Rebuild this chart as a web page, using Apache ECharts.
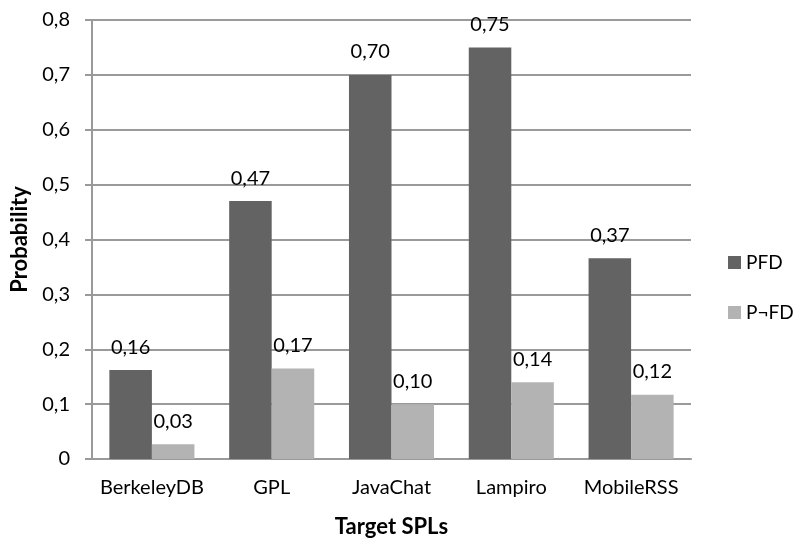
<!DOCTYPE html>
<html>
<head>
<meta charset="utf-8">
<script src="https://cdn.jsdelivr.net/npm/echarts@6/dist/echarts.min.js"></script>
<style>
  html, body { margin: 0; padding: 0; background: #fff; }
  #chart { width: 795px; height: 543px; }
</style>
</head>
<body>
<div id="chart"></div>
<script>
// Target product lines and the two probabilities measured on each
const categories = ['BerkeleyDB', 'GPL', 'JavaChat', 'Lampiro', 'MobileRSS'];
const pfdValues = [0.162, 0.47, 0.70, 0.75, 0.366];
const pNotFdValues = [0.027, 0.165, 0.10, 0.14, 0.117];
const seriesNames = ['PFD', 'P\u00acFD'];
const yTicks = { min: 0, max: 0.8, interval: 0.1 };

const FONT = 'Lato';
const comma = (v, d) => (d === undefined ? String(+v.toFixed(1)) : v.toFixed(d)).replace('.', ',');

const chart = echarts.init(document.getElementById('chart'));

const labelStyle = {
  show: true,
  position: 'top',
  distance: 13,
  color: '#000',
  fontFamily: FONT,
  fontSize: 20,
  formatter: p => comma(p.value, 2)
};

chart.setOption({
  animation: false,
  textStyle: { fontFamily: FONT },
  grid: { left: 92, right: 104, top: 20, bottom: 79, containLabel: false },
  legend: {
    orient: 'vertical',
    left: 723,
    top: 248,
    itemWidth: 13,
    itemHeight: 13,
    itemGap: 31,
    itemStyle: { borderWidth: 0 },
    icon: 'rect',
    textStyle: { fontFamily: FONT, fontSize: 19, color: '#000' },
    data: seriesNames
  },
  xAxis: {
    type: 'category',
    data: categories,
    name: 'Target SPLs',
    nameLocation: 'middle',
    nameGap: 57,
    nameTextStyle: { fontFamily: FONT, fontSize: 22, fontWeight: 'bold', color: '#000' },
    axisLine: { lineStyle: { color: '#9a9a9a', width: 2 } },
    axisTick: { show: false },
    axisLabel: { interval: 0, color: '#000', fontFamily: FONT, fontSize: 20, margin: 19 }
  },
  yAxis: {
    type: 'value',
    min: yTicks.min,
    max: yTicks.max,
    interval: yTicks.interval,
    name: 'Probability',
    nameLocation: 'middle',
    nameGap: 61,
    nameTextStyle: { fontFamily: FONT, fontSize: 22, fontWeight: 'bold', color: '#000' },
    axisLine: { show: true, lineStyle: { color: '#9a9a9a', width: 2 } },
    axisTick: { show: true, length: 7, lineStyle: { color: '#9a9a9a', width: 2 } },
    splitLine: { lineStyle: { color: '#9a9a9a', width: 2 } },
    axisLabel: { color: '#000', fontFamily: FONT, fontSize: 20, margin: 22, formatter: v => comma(v) }
  },
  series: [
    {
      name: seriesNames[0],
      type: 'bar',
      data: pfdValues,
      barGap: '0%',
      barCategoryGap: '29%',
      itemStyle: { color: '#636363' },
      label: labelStyle
    },
    {
      name: seriesNames[1],
      type: 'bar',
      data: pNotFdValues,
      barGap: '0%',
      barCategoryGap: '29%',
      itemStyle: { color: '#b3b3b3' },
      label: labelStyle
    }
  ]
});
</script>
</body>
</html>
